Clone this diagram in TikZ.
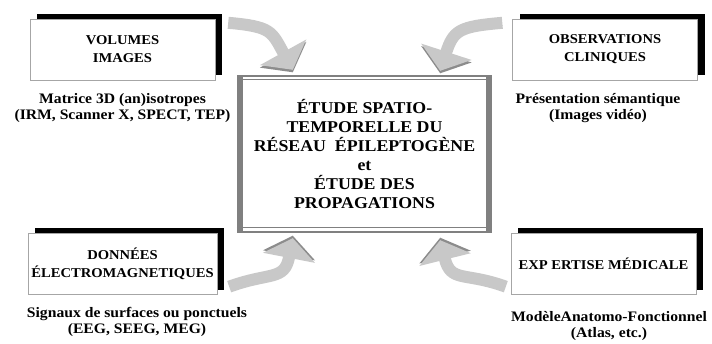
\documentclass[tikz,border=0pt]{standalone}
\usepackage{fontspec}
\setmainfont{Liberation Serif}[FakeStretch=1.08]
\usetikzlibrary{positioning, shadows, arrows.meta}

\definecolor{framegray}{RGB}{128,128,128}
\definecolor{arrowlight}{RGB}{200,200,200}
\definecolor{arrowdark}{RGB}{140,140,140}

\begin{document}
\begin{tikzpicture}[x=1pt, y=1pt, node distance=13pt]
      \tikzstyle{source}=[draw=gray!70, fill=white, minimum width=185pt, minimum height=61pt,
        align=center, font=\bfseries\fontsize{13.5}{18}\selectfont,
        general shadow={fill=black, shadow xshift=7pt, shadow yshift=5pt}]
      \tikzstyle{caption}=[align=center, inner sep=0pt, font=\bfseries\fontsize{14.5}{16}\selectfont]
      \tikzstyle{flow}=[line width=12pt, draw=arrowlight, looseness=1.4,
        -{Triangle[length=20pt, width=52pt]}]
      \tikzstyle{flow top}=[flow, preaction={draw=arrowdark, transform canvas={yshift=-2.5pt}}]
      \tikzstyle{flow bottom}=[flow, preaction={draw=arrowdark, transform canvas={yshift=2.5pt}}]

      \useasboundingbox (0,0) rectangle (712,343);

      % The four sources of data, one in each corner.
      \node[source] (vol) at (122.5,293.5) {VOLUMES\\IMAGES};
      \node[source] (obs) at (605,293.5)   {OBSERVATIONS\\CLINIQUES};
      \node[source] (don) at (122.5,79)    {DONNÉES\\ÉLECTROMAGNETIQUES};
      \node[source] (exp) at (603.5,79)    {EXP ERTISE MÉDICALE};

      % What each source gives.
      \node[caption, below=of vol] (vol txt)
        {Matrice 3D (an)isotropes\\(IRM, Scanner X, SPECT, TEP)};
      \node[caption, below=of obs, xshift=-7pt] (obs txt)
        {Présentation sémantique\\(Images vidéo)};
      \node[caption, below=12pt of don, xshift=14.5pt] (don txt)
        {Signaux de surfaces ou ponctuels\\(EEG, SEEG, MEG)};
      \node[caption, below=17pt of exp, xshift=5.5pt] (exp txt)
        {ModèleAnatomo-Fonctionnel\\(Atlas, etc.)};

      % The study in the middle, with its grey frame.
      \node[fill=white, minimum width=255pt, minimum height=158pt, align=center,
            font=\bfseries\fontsize{16.5}{19}\selectfont]
        (etude) at (364.5,189)
        {ÉTUDE SPATIO-\\TEMPORELLE DU\\RÉSEAU~~ÉPILEPTOGÈNE\\et\\ÉTUDE DES\\PROPAGATIONS};
      \fill[framegray] (etude.north west) rectangle ([xshift=6pt]etude.south west);
      \fill[framegray] ([xshift=-6pt]etude.north east) rectangle (etude.south east);
      \fill[framegray] (etude.north west) rectangle ([yshift=-2pt]etude.north east);
      \fill[framegray] ([yshift=2pt]etude.south west) rectangle (etude.south east);
      \draw[framegray, line width=1pt]
        ([yshift=-5pt]etude.north west) -- ([yshift=-5pt]etude.north east)
        ([yshift=6pt]etude.south west) -- ([yshift=6pt]etude.south east);

      % Ends of the arrows.
      \coordinate (vol out) at ([xshift=13pt, yshift=-4pt]vol.north east);
      \coordinate (obs out) at ([xshift=-10pt, yshift=-4pt]obs.north west);
      \coordinate (don out) at ([xshift=12pt, yshift=8pt]don.south east);
      \coordinate (exp out) at ([xshift=-5pt, yshift=8pt]exp.south west);
      \coordinate (vol in) at ([xshift=56pt, yshift=5pt]etude.north west);
      \coordinate (obs in) at ([xshift=-52pt, yshift=4pt]etude.north east);
      \coordinate (don in) at ([xshift=56pt, yshift=-5pt]etude.south west);
      \coordinate (exp in) at ([xshift=-52pt, yshift=-7pt]etude.south east);

      % Draw the arrows into the study.
      \draw[flow top] (vol out) to[out=-5, in=119] (vol in);
      \draw[flow top] (obs out) to[out=185, in=72] (obs in);
      \draw[flow bottom] (don out) to[out=20, in=-101] (don in);
      \draw[flow bottom] (exp out) to[out=160, in=-76] (exp in);
    \end{tikzpicture}
\end{document}
